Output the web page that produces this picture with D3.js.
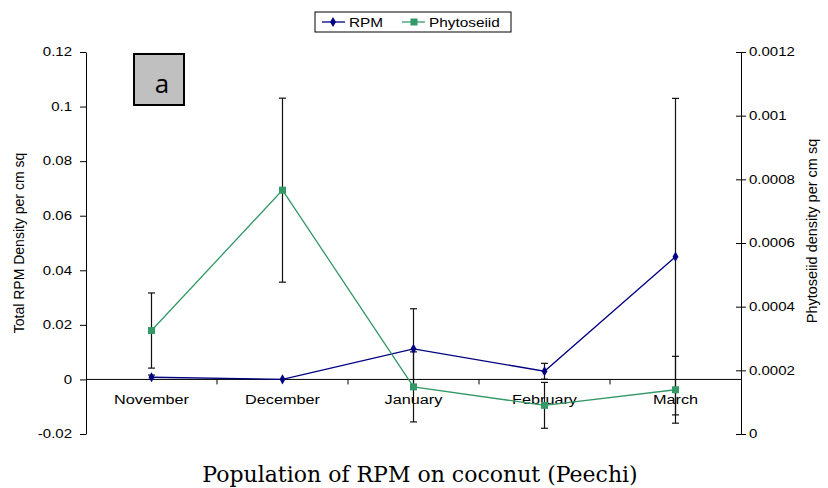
<!DOCTYPE html>
<html>
<head>
<meta charset="utf-8">
<script src="https://cdn.jsdelivr.net/npm/d3@7"></script>
<style>
  body { margin: 0; background: #fff; }
  text { font-family: 'Liberation Sans', Arial, sans-serif; fill: #000; }
</style>
</head>
<body>
<script>
// chart data
const months = ['November', 'December', 'January', 'February', 'March'];
const rpm = [0.0008, 0.00002, 0.0112, 0.003, 0.045];
const rpmErr = [0.0008, 0, 0.0147, 0.0029, 0.058];
const phyto = [0.000325, 0.000766, 0.000148, 0.00009, 0.000139];
const phytoErr = [0.000118, 0.000289, 0.00011, 0.000072, 0.000105];
const leftTicks = [-0.02, 0, 0.02, 0.04, 0.06, 0.08, 0.1, 0.12];
const rightTicks = [0, 0.0002, 0.0004, 0.0006, 0.0008, 0.001, 0.0012];

const width = 828;
const height = 488;
const plot = { left: 86, right: 741, top: 52, bottom: 434 };

const rpmColor = '#000080';
const phytoColor = '#339966';

// the original chart was stretched sideways, so text is widened a bit
function widen(sel, k) {
  sel.each(function () {
    const w = this.getComputedTextLength();
    d3.select(this).attr('textLength', w * k).attr('lengthAdjust', 'spacingAndGlyphs');
  });
}

const svg = d3
  .select('body')
  .append('svg')
  .attr('width', width)
  .attr('height', height);

// scales
const xScale = d3.scaleBand().domain(months).range([plot.left, plot.right]);
const yLeft = d3.scaleLinear().domain([-0.02, 0.12]).range([plot.bottom, plot.top]);
const yRight = d3.scaleLinear().domain([0, 0.0012]).range([plot.bottom, plot.top]);
const cx = m => xScale(m) + xScale.bandwidth() / 2;

// left axis
const gLeft = svg
  .append('g')
  .attr('transform', `translate(${plot.left},0)`)
  .call(d3.axisLeft(yLeft).tickValues(leftTicks).tickFormat(d => String(d)).tickSize(6).tickSizeOuter(0).tickPadding(8));
gLeft.selectAll('text').style('font-size', '12px');
widen(gLeft.selectAll('text'), 1.25);

// right axis, ticks cross the line
const gRight = svg
  .append('g')
  .attr('transform', `translate(${plot.right},0)`)
  .call(d3.axisRight(yRight).tickValues(rightTicks).tickFormat(d => String(d)).tickSize(5).tickSizeOuter(0).tickPadding(3));
gRight.selectAll('.tick line').attr('x1', -5);
gRight.selectAll('text').style('font-size', '12px');
widen(gRight.selectAll('text'), 1.25);
svg.selectAll('.domain, .tick line').attr('stroke', '#000');

// category axis along zero
const zeroY = yLeft(0);
svg
  .append('line')
  .attr('x1', plot.left)
  .attr('x2', plot.right)
  .attr('y1', zeroY)
  .attr('y2', zeroY)
  .attr('stroke', '#000');
svg
  .append('g')
  .selectAll('line')
  .data(months.slice(1))
  .enter()
  .append('line')
  .attr('x1', d => xScale(d))
  .attr('x2', d => xScale(d))
  .attr('y1', zeroY)
  .attr('y2', zeroY + 5)
  .attr('stroke', '#000');
const catLabels = svg
  .append('g')
  .selectAll('text')
  .data(months)
  .enter()
  .append('text')
  .attr('x', d => cx(d))
  .attr('y', zeroY + 25)
  .attr('text-anchor', 'middle')
  .style('font-size', '12.5px')
  .text(d => d);
widen(catLabels, 1.3);

// axis titles
svg
  .append('text')
  .attr('transform', `translate(24,${(plot.top + plot.bottom) / 2}) rotate(-90)`)
  .attr('text-anchor', 'middle')
  .style('font-size', '14px')
  .text('Total RPM Density per cm sq');
svg
  .append('text')
  .attr('transform', `translate(817,${(plot.top + plot.bottom) / 2 - 12}) rotate(-90)`)
  .attr('text-anchor', 'middle')
  .style('font-size', '14.5px')
  .text('Phytoseiid density per cm sq');

// error bars
function errorBars(vals, errs, y) {
  const g = svg.append('g').attr('stroke', '#111').attr('stroke-width', 1.2);
  months.forEach((m, i) => {
    if (!errs[i]) return;
    const x = cx(m);
    const top = y(vals[i] + errs[i]);
    const bot = y(vals[i] - errs[i]);
    g.append('line').attr('x1', x).attr('x2', x).attr('y1', top).attr('y2', bot);
    g.append('line').attr('x1', x - 3.5).attr('x2', x + 3.5).attr('y1', top).attr('y2', top);
    g.append('line').attr('x1', x - 3.5).attr('x2', x + 3.5).attr('y1', bot).attr('y2', bot);
  });
}
errorBars(rpm, rpmErr, yLeft);
errorBars(phyto, phytoErr, yRight);

// RPM line
const rpmLine = d3.line().x((d, i) => cx(months[i])).y(d => yLeft(d));
svg
  .append('path')
  .datum(rpm)
  .attr('fill', 'none')
  .attr('stroke', rpmColor)
  .attr('stroke-width', 1.3)
  .attr('d', rpmLine);
svg
  .append('g')
  .selectAll('path')
  .data(rpm)
  .enter()
  .append('path')
  .attr('transform', (d, i) => `translate(${cx(months[i])},${yLeft(d)})`)
  .attr('d', d3.symbol(d3.symbolDiamond, 30))
  .attr('fill', rpmColor);

// Phytoseiid line
const phytoLine = d3.line().x((d, i) => cx(months[i])).y(d => yRight(d));
svg
  .append('path')
  .datum(phyto)
  .attr('fill', 'none')
  .attr('stroke', phytoColor)
  .attr('stroke-width', 1.3)
  .attr('d', phytoLine);
svg
  .append('g')
  .selectAll('rect')
  .data(phyto)
  .enter()
  .append('rect')
  .attr('x', (d, i) => cx(months[i]) - 3.5)
  .attr('y', d => yRight(d) - 3.5)
  .attr('width', 7)
  .attr('height', 7)
  .attr('fill', phytoColor);

// legend
const legend = svg.append('g');
legend
  .append('rect')
  .attr('x', 315)
  .attr('y', 12)
  .attr('width', 196)
  .attr('height', 20)
  .attr('fill', '#fff')
  .attr('stroke', '#000');
legend.append('line').attr('x1', 322).attr('x2', 345).attr('y1', 22).attr('y2', 22).attr('stroke', rpmColor).attr('stroke-width', 1.3);
legend.append('path').attr('transform', 'translate(333,22)').attr('d', d3.symbol(d3.symbolDiamond, 30)).attr('fill', rpmColor);
legend.append('line').attr('x1', 402).attr('x2', 425).attr('y1', 22).attr('y2', 22).attr('stroke', phytoColor).attr('stroke-width', 1.3);
legend.append('rect').attr('x', 410.5).attr('y', 18.5).attr('width', 7).attr('height', 7).attr('fill', phytoColor);
const legText = legend
  .selectAll('text')
  .data([{ t: 'RPM', x: 349 }, { t: 'Phytoseiid', x: 429 }])
  .enter()
  .append('text')
  .attr('x', d => d.x)
  .attr('y', 27)
  .style('font-size', '13px')
  .text(d => d.t);
widen(legText, 1.18);

// panel letter
svg
  .append('rect')
  .attr('x', 134)
  .attr('y', 54)
  .attr('width', 50)
  .attr('height', 51)
  .attr('fill', '#c0c0c0')
  .attr('stroke', '#000')
  .attr('stroke-width', 2);
svg
  .append('text')
  .attr('x', 162)
  .attr('y', 93)
  .attr('text-anchor', 'middle')
  .style('font-family', "'Open Sans', sans-serif")
  .style('font-size', '26px')
  .text('a');

// caption
svg
  .append('text')
  .attr('x', 420)
  .attr('y', 482)
  .attr('text-anchor', 'middle')
  .style('font-family', "'DejaVu Serif', serif")
  .style('font-size', '22px')
  .text('Population of RPM on coconut (Peechi)');
</script>
</body>
</html>
